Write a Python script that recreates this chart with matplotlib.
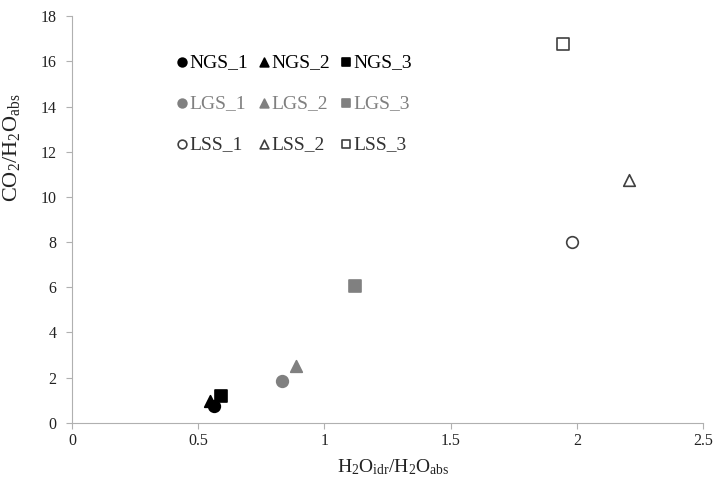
import matplotlib
matplotlib.use('Agg')
import matplotlib.pyplot as plt

plt.rcParams['font.family'] = ['Liberation Serif', 'DejaVu Serif']
plt.rcParams['mathtext.fontset'] = 'custom'
plt.rcParams['mathtext.rm'] = 'Liberation Serif'
plt.rcParams['mathtext.it'] = 'Liberation Serif:italic'

# data
labels = ['NGS_1', 'NGS_2', 'NGS_3',
          'LGS_1', 'LGS_2', 'LGS_3',
          'LSS_1', 'LSS_2', 'LSS_3']
x_vals = [0.563, 0.547, 0.59, 0.832, 0.887, 1.121, 1.981, 2.207, 1.945]
y_vals = [0.75, 0.97, 1.19, 1.86, 2.52, 6.06, 8.01, 10.75, 16.77]

markers = ['o', '^', 's'] * 3
faces = ['black'] * 3 + ['#808080'] * 3 + ['white'] * 3
edges = ['black'] * 3 + ['#808080'] * 3 + ['#404040'] * 3

fig = plt.figure(figsize=(7.13, 4.9), dpi=100)
ax = fig.add_axes([0.101, 0.137, 0.885, 0.83])

handles = []
for i in range(len(labels)):
    h = ax.scatter(x_vals[i], y_vals[i], marker=markers[i], s=70,
                   facecolor=faces[i], edgecolor=edges[i], linewidths=1.2,
                   label=labels[i], zorder=3)
    handles.append(h)

ax.set_xlim(0, 2.5)
ax.set_ylim(0, 18)
ax.set_xticks([0, 0.5, 1, 1.5, 2, 2.5])
ax.set_xticklabels(['0', '0.5', '1', '1.5', '2', '2.5'])
ax.set_yticks(range(0, 19, 2))

for s in ['top', 'right']:
    ax.spines[s].set_visible(False)
for s in ['left', 'bottom']:
    ax.spines[s].set_color('#b0b0b0')
ax.tick_params(colors='#b0b0b0', labelcolor='#222222', labelsize=11.5, length=4)
ax.tick_params(axis='y', pad=7)

ax.set_xlabel(r'$\mathrm{H_2O_{idr}/H_2O_{abs}}$', fontsize=14, color='#222222')
ax.set_ylabel(r'$\mathrm{CO_2/H_2O_{abs}}$', fontsize=16, color='#222222')
ax.yaxis.set_label_coords(-0.079, 0.676)
ax.xaxis.set_label_coords(0.509, -0.085)

order = [0, 3, 6, 1, 4, 7, 2, 5, 8]
ax.legend([handles[i] for i in order], [labels[i] for i in order],
          ncol=3, frameon=False, loc='upper left', bbox_to_anchor=(0.149, 0.931),
          borderpad=0, fontsize=14, handletextpad=0.1, columnspacing=0.5,
          labelspacing=1.2, handlelength=0.6, markerscale=0.75,
          labelcolor=['black', '#808080', '#333333'] * 3)

fig.savefig('out.png', dpi=100)
